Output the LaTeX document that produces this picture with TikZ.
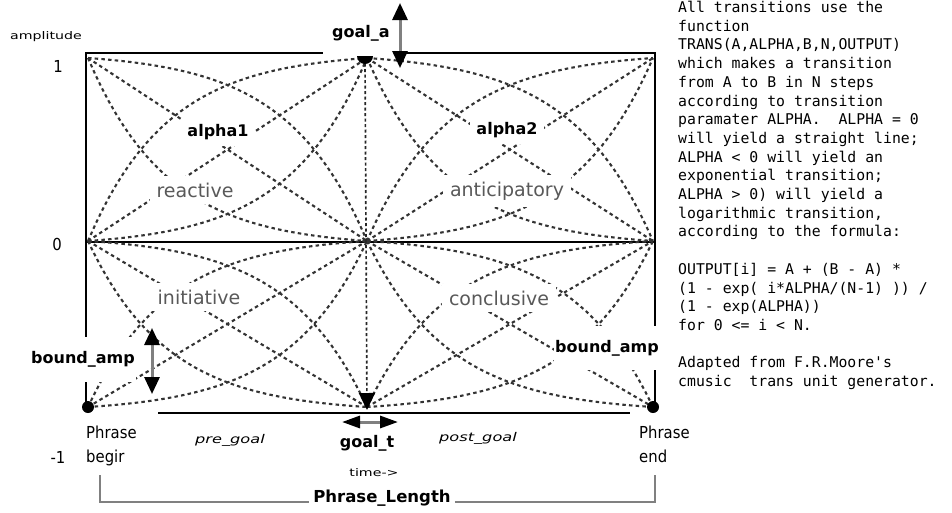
\documentclass[tikz,border=0pt]{standalone}
\usepackage{fontspec}
\setmainfont{DejaVu Sans}
\newfontfamily\monofont{DejaVu Sans Mono}
\newfontfamily\pixfont[FakeStretch=0.9]{DejaVu Sans}
\newfontfamily\tinyfont[FakeStretch=1.35]{DejaVu Sans}
\usetikzlibrary{arrows.meta,positioning,calc}

\begin{document}
\begin{tikzpicture}[x=1pt, y=-1pt,
  rim/.style={line width=2.6pt},
  transline/.style={line width=2.1pt, black!80, dash pattern=on 3.5pt off 3.2pt},
  midline/.style={line width=1.7pt, black!85, dash pattern=on 3pt off 2.5pt},
  lab/.style={font=\fontsize{16}{16}\selectfont\bfseries, inner sep=1pt},
  phase/.style={font=\fontsize{19}{19}\selectfont, text=black!65, fill=white, inner sep=7pt},
  pix/.style={font=\pixfont\fontsize{16.5}{24}\selectfont, inner sep=0pt},
  tinylab/.style={font=\tinyfont\fontsize{10.5}{10.5}\selectfont, inner sep=0pt},
  goallab/.style={font=\tinyfont\itshape\fontsize{12}{12}\selectfont, inner sep=0pt},
  dbl/.style={{Triangle[length=17pt,width=15pt,color=black]}-{Triangle[length=17pt,width=15pt,color=black]}, line width=3pt, black!50},
  dblh/.style={{Triangle[length=18pt,width=12pt,color=black]}-{Triangle[length=18pt,width=12pt,color=black]}, line width=3pt, black!50},
  lenline/.style={line width=2pt, black!50}
]
\useasboundingbox (0,0) rectangle (952,512);

% frame
\draw[rim] (85,53) -- (323,53) (397,53) -- (656,53);
\draw[rim] (86,52) -- (86,407) (655,52) -- (655,407);
\draw[rim] (85,242) -- (656,242);
\draw[rim] (158,413) -- (630,413);

% transition curves, one quadrant at a time
\foreach \xa/\ya/\xb/\yb in {88/58/367/241, 367/58/653/241, 88/241/367/407, 367/241/653/407} {
  \draw[transline] (\xa,\ya) -- (\xb,\yb) (\xa,\yb) -- (\xb,\ya);
  \foreach \al in {-3.5,3.5} {
    \draw[transline] plot[domain=0:1, samples=40, variable=\t]
      ({\xa+(\xb-\xa)*\t}, {\ya+(\yb-\ya)*(1-exp(\al*\t))/(1-exp(\al))});
    \draw[transline] plot[domain=0:1, samples=40, variable=\t]
      ({\xa+(\xb-\xa)*\t}, {\yb+(\ya-\yb)*(1-exp(\al*\t))/(1-exp(\al))});
  }
}

\coordinate (ga) at (365,58);
\coordinate (gt) at (367,410);
\coordinate (pb) at (88,407);
\coordinate (pe) at (653,407);
\draw[midline, -{Triangle[length=17pt,width=16pt,color=black]}] (ga) -- (gt);
\fill (373,56) arc[start angle=0, end angle=180, radius=8] -- cycle;
\fill (pb) circle[radius=6];
\fill (pe) circle[radius=6];

% labels
\node[tinylab] (amp) at (46,37) {amplitude};
\node[pix] (one) at (58,66) {1};
\node[pix] (zero) at (57,244) {0};
\node[pix] (mone) at (58,457) {-1};
\node[lab] (goala) at (361,33) {goal\_a};
\node[lab, fill=white, inner sep=6pt] (alpha1) at (218,132) {alpha1};
\node[lab, fill=white, inner sep=6pt] (alpha2) at (507,130) {alpha2};
\node[phase] (reac) at (195,190) {reactive};
\node[phase] (anti) at (507,191) {anticipatory};
\node[phase] (init) at (199,297) {initiative};
\node[phase] (concl) at (499,298) {conclusive};
\node[lab, fill=white, minimum height=45pt] (bampl) at (83,359) {bound\_amp};
\node[lab, fill=white, minimum height=44pt] (bampr) at (607,348) {bound\_amp};
\node[pix, anchor=north west, align=left] (pbeg) at (86,426) {Phrase\\begir};
\node[pix, anchor=north west, align=left] (pend) at (639,426) {Phrase\\end};
\node[goallab] (pre) at (230,440) {pre\_goal};
\node[goallab] (post) at (478,438) {post\_goal};
\node[lab] (goalt) at (367,443) {goal\_t};
\node[tinylab] (time) at (374,473) {time->};
\node[lab, font=\fontsize{16.5}{16.5}\selectfont\bfseries, inner sep=4pt] (plen) at (382,498) {Phrase\_Length};

% arrows
\coordinate (gaup) at (400,3);
\coordinate (gadn) at (400,68);
\coordinate (bup) at (152,328);
\coordinate (bdn) at (152,394);
\coordinate (gtl) at (342,422);
\coordinate (gtr) at (398,422);
\draw[dbl] (gaup) -- (gadn);
\draw[dbl] (bup) -- (bdn);
\draw[dblh] (gtl) -- (gtr);

% length bracket
\coordinate (lb) at (100,475);
\coordinate (rb) at (655,475);
\draw[lenline] (lb) |- (plen.base west);
\draw[lenline] (plen.base east) -| (rb);

% note
\node[anchor=north west, inner sep=0pt, align=left, font=\monofont\fontsize{14.8}{18.7}\selectfont] (note) at (678,1) {%
All transitions use the\\
function\\
TRANS(A,ALPHA,B,N,OUTPUT)\\
which makes a transition\\
from A to B in N steps\\
according to transition\\
paramater ALPHA.~~ALPHA = 0\\
will yield a straight line;\\
ALPHA < 0 will yield an\\
exponential transition;\\
ALPHA > 0) will yield a\\
logarithmic transition,\\
according to the formula:\\[18.7pt]
OUTPUT[i] = A + (B - A) *\\
(1 - exp( i*ALPHA/(N-1) )) /\\
(1 - exp(ALPHA))\\
for 0 <= i < N.\\[18.7pt]
Adapted from F.R.Moore's\\
cmusic~~trans unit generator.};
\end{tikzpicture}
\end{document}
